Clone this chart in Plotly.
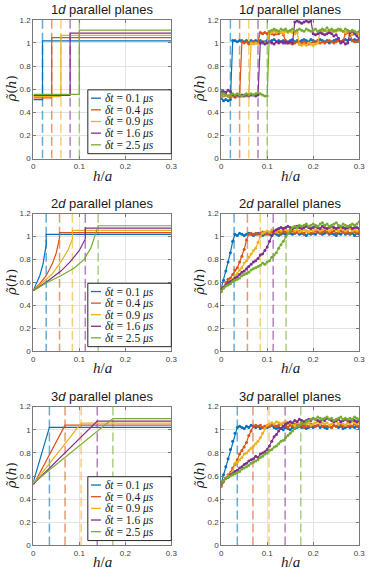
import plotly.graph_objects as go

# MATLAB default colour order
COLORS = ["#0072BD", "#D95319", "#EDB120", "#7E2F8E", "#77AC30"]
DT_LABELS = ["0.1", "0.4", "0.9", "1.6", "2.5"]
DIMS = ["1", "2", "3"]

# threshold positions (dashed lines), per dimension
THR_1D = [0.02, 0.04, 0.06, 0.08, 0.10]
THR_2D = [0.028, 0.057, 0.085, 0.113, 0.141]
THR_3D = [0.035, 0.069, 0.104, 0.139, 0.173]

# ---- theory, 1d: step functions (low before threshold, high after)
TH1_LOW = [0.51, 0.525, 0.535, 0.545, 0.555]
TH1_HIGH = [1.018, 1.045, 1.065, 1.085, 1.11]

# ---- theory, 2d: curved rise up to threshold, then flat
TH2_X = [
    [0, 0.007, 0.014, 0.021, 0.028, 0.028, 0.3],
    [0, 0.014, 0.028, 0.042, 0.05, 0.057, 0.057, 0.3],
    [0, 0.02, 0.04, 0.06, 0.075, 0.085, 0.085, 0.3],
    [0, 0.03, 0.06, 0.08, 0.1, 0.113, 0.113, 0.3],
    [0, 0.03, 0.06, 0.09, 0.11, 0.125, 0.141, 0.3],
]
TH2_Y = [
    [0.53, 0.59, 0.66, 0.76, 0.93, 1.02, 1.02],
    [0.53, 0.59, 0.66, 0.77, 0.86, 0.99, 1.035, 1.035],
    [0.53, 0.60, 0.67, 0.78, 0.88, 0.98, 1.055, 1.055],
    [0.53, 0.61, 0.70, 0.78, 0.88, 0.98, 1.075, 1.075],
    [0.53, 0.60, 0.66, 0.73, 0.80, 0.90, 1.095, 1.095],
]

# ---- theory, 3d: straight rise up to threshold, then flat
TH3_START = [0.55, 0.52, 0.53, 0.53, 0.54]
TH3_HIGH = [1.02, 1.04, 1.058, 1.075, 1.097]

# ---- simulation, sampled every 0.005 in h/a
H = [0.000, 0.005, 0.010, 0.015, 0.020, 0.025, 0.030, 0.035, 0.040, 0.045,
     0.050, 0.055, 0.060, 0.065, 0.070, 0.075, 0.080, 0.085, 0.090, 0.095,
     0.100, 0.105, 0.110, 0.115, 0.120, 0.125, 0.130, 0.135, 0.140, 0.145,
     0.150, 0.155, 0.160, 0.165, 0.170, 0.175, 0.180, 0.185, 0.190, 0.195,
     0.200, 0.205, 0.210, 0.215, 0.220, 0.225, 0.230, 0.235, 0.240, 0.245,
     0.250, 0.255, 0.260, 0.265, 0.270, 0.275, 0.280, 0.285, 0.290, 0.295,
     0.300]

SIM_1D = [
    [0.52, 0.50, 0.51, 0.50, 0.51, 1.02, 1.02, 1.01, 1.02, 1.02,
     1.01, 1.02, 1.00, 1.02, 1.01, 1.02, 1.01, 1.02, 1.00, 1.01,
     1.02, 1.01, 1.02, 1.03, 1.01, 1.02, 1.01, 1.02, 1.00, 1.01,
     1.02, 1.03, 1.01, 1.02, 1.01, 1.02, 1.03, 1.02, 1.01, 1.03,
     1.02, 1.01, 1.02, 1.03, 1.02, 1.01, 1.02, 1.00, 1.01, 1.02,
     1.03, 1.02, 1.01, 1.02, 1.03, 1.02, 1.03, 1.02, 1.03, 1.02, 1.03],
    [0.55, 0.54, 0.55, 0.54, 0.53, 0.54, 0.53, 0.54, 0.54, 1.01,
     1.00, 1.01, 0.99, 1.00, 1.01, 1.00, 1.01, 1.09, 1.08, 1.09,
     1.08, 1.09, 1.08, 1.07, 1.08, 1.08, 1.09, 1.07, 1.02, 1.00,
     1.00, 0.99, 1.00, 1.01, 0.99, 1.00, 1.01, 1.00, 0.99, 1.00,
     1.01, 1.00, 1.02, 1.00, 1.01, 1.00, 1.01, 1.02, 1.01, 1.00,
     1.01, 1.02, 1.01, 1.02, 1.08, 1.09, 1.07, 1.02, 1.01, 1.01, 1.02],
    [0.56, 0.55, 0.55, 0.54, 0.55, 0.54, 0.55, 0.54, 0.55, 0.54,
     0.55, 0.54, 0.55, 1.00, 0.99, 1.00, 0.99, 1.00, 1.01, 1.00,
     1.00, 1.08, 1.09, 1.10, 1.09, 1.10, 1.09, 1.08, 1.10, 1.09,
     1.10, 1.09, 1.08, 1.09, 0.99, 0.98, 0.99, 0.98, 1.00, 0.99,
     0.98, 0.99, 1.00, 1.09, 1.10, 1.11, 1.10, 1.09, 1.10, 1.11,
     1.10, 1.11, 1.12, 1.10, 1.09, 1.10, 1.08, 1.07, 1.08, 1.07, 1.08],
    [0.58, 0.58, 0.57, 0.59, 0.58, 0.55, 0.54, 0.55, 0.54, 0.55,
     0.54, 0.55, 0.54, 0.55, 0.55, 0.54, 0.55, 1.00, 1.01, 0.99,
     1.00, 1.01, 1.00, 0.99, 1.01, 1.00, 1.01, 1.00, 1.01, 1.00,
     1.01, 1.00, 1.18, 1.19, 1.18, 1.17, 1.18, 1.19, 1.18, 1.19,
     1.08, 1.07, 1.08, 1.09, 1.08, 1.07, 1.08, 1.09, 1.08, 1.06,
     1.07, 1.04, 1.00, 1.01, 0.99, 1.00, 1.09, 1.10, 1.08, 1.06, 1.04],
    [0.55, 0.56, 0.55, 0.54, 0.55, 0.56, 0.55, 0.56, 0.55, 0.54,
     0.55, 0.56, 0.55, 0.56, 0.55, 0.56, 0.57, 0.56, 0.55, 0.54,
     0.54, 1.10, 1.11, 1.12, 1.11, 1.10, 1.12, 1.11, 1.12, 1.10,
     1.11, 1.12, 1.10, 1.11, 1.12, 1.11, 1.10, 1.12, 1.11, 1.10,
     1.11, 1.12, 1.10, 1.11, 1.12, 1.11, 1.13, 1.11, 1.12, 1.10,
     1.11, 1.12, 1.11, 1.10, 1.12, 1.11, 1.10, 1.11, 1.10, 1.09, 1.10],
]

SIM_2D = [
    [0.55, 0.62, 0.70, 0.78, 0.86, 0.96, 1.02, 1.01, 1.03, 1.02,
     1.01, 1.02, 1.03, 1.02, 1.01, 1.02, 1.03, 1.02, 1.01, 1.02,
     1.03, 1.02, 1.01, 1.03, 1.02, 1.01, 1.02, 1.03, 1.02, 1.04,
     1.03, 1.02, 1.03, 1.04, 1.02, 1.03, 1.02, 1.01, 1.03, 1.02,
     1.03, 1.02, 1.04, 1.03, 1.02, 1.03, 1.04, 1.02, 1.03, 1.02,
     1.01, 1.03, 1.02, 1.04, 1.02, 1.03, 1.02, 1.03, 1.01, 1.03, 1.02],
    [0.52, 0.56, 0.60, 0.63, 0.64, 0.67, 0.71, 0.73, 0.78, 0.83,
     0.89, 0.97, 1.02, 1.03, 1.02, 1.03, 1.02, 1.03, 1.04, 1.03,
     1.02, 1.03, 1.04, 1.03, 1.05, 1.04, 1.03, 1.05, 1.04, 1.03,
     1.04, 1.05, 1.03, 1.04, 1.05, 1.04, 1.03, 1.05, 1.04, 1.03,
     1.04, 1.05, 1.04, 1.03, 1.04, 1.05, 1.04, 1.03, 1.04, 1.05,
     1.03, 1.04, 1.05, 1.04, 1.03, 1.04, 1.03, 1.05, 1.04, 1.03, 1.04],
    [0.53, 0.56, 0.58, 0.60, 0.61, 0.63, 0.66, 0.68, 0.71, 0.73,
     0.77, 0.79, 0.82, 0.85, 0.88, 0.90, 0.95, 1.00, 1.03, 1.04,
     1.05, 1.04, 1.06, 1.05, 1.04, 1.06, 1.05, 1.07, 1.06, 1.05,
     1.06, 1.07, 1.05, 1.06, 1.04, 1.05, 1.06, 1.05, 1.04, 1.06,
     1.05, 1.06, 1.07, 1.05, 1.06, 1.07, 1.06, 1.05, 1.06, 1.07,
     1.06, 1.05, 1.07, 1.06, 1.05, 1.06, 1.07, 1.05, 1.06, 1.05, 1.06],
    [0.54, 0.56, 0.58, 0.60, 0.61, 0.62, 0.64, 0.65, 0.67, 0.69,
     0.70, 0.72, 0.74, 0.76, 0.78, 0.79, 0.81, 0.84, 0.85, 0.88,
     0.91, 0.96, 1.01, 1.05, 1.06, 1.07, 1.08, 1.07, 1.08, 1.09,
     1.08, 1.07, 1.08, 1.09, 1.08, 1.07, 1.08, 1.09, 1.08, 1.07,
     1.08, 1.09, 1.08, 1.07, 1.09, 1.08, 1.07, 1.08, 1.09, 1.08,
     1.07, 1.08, 1.09, 1.08, 1.07, 1.08, 1.09, 1.07, 1.08, 1.08, 1.07],
    [0.53, 0.55, 0.57, 0.58, 0.59, 0.61, 0.62, 0.63, 0.64, 0.66,
     0.67, 0.68, 0.69, 0.71, 0.72, 0.73, 0.74, 0.75, 0.77, 0.76,
     0.78, 0.79, 0.82, 0.84, 0.86, 0.90, 0.93, 0.96, 1.00, 1.03,
     1.06, 1.08, 1.09, 1.08, 1.10, 1.09, 1.10, 1.11, 1.09, 1.10,
     1.11, 1.10, 1.09, 1.11, 1.12, 1.10, 1.11, 1.09, 1.10, 1.11,
     1.12, 1.10, 1.09, 1.11, 1.10, 1.09, 1.10, 1.11, 1.10, 1.11, 1.13],
]

SIM_3D = [
    [0.54, 0.61, 0.68, 0.75, 0.83, 0.90, 0.97, 1.02, 1.03, 1.02,
     1.01, 1.03, 1.02, 1.04, 1.03, 1.02, 1.03, 1.01, 1.02, 1.03,
     1.02, 1.03, 1.04, 1.02, 1.01, 1.02, 1.01, 1.00, 1.02, 1.01,
     1.00, 1.02, 1.01, 1.02, 1.03, 1.02, 1.03, 1.01, 1.02, 1.03,
     1.02, 1.03, 1.04, 1.02, 1.03, 1.02, 1.01, 1.03, 1.02, 1.04,
     1.03, 1.02, 1.03, 1.01, 1.02, 1.03, 1.02, 1.03, 1.02, 1.03, 1.02],
    [0.51, 0.55, 0.58, 0.61, 0.63, 0.67, 0.70, 0.74, 0.79, 0.82,
     0.85, 0.89, 0.95, 0.99, 1.03, 1.04, 1.03, 1.04, 1.02, 1.03,
     1.04, 1.03, 1.05, 1.04, 1.03, 1.04, 1.05, 1.03, 1.04, 1.02,
     1.04, 1.03, 1.05, 1.04, 1.03, 1.04, 1.02, 1.04, 1.03, 1.05,
     1.04, 1.03, 1.04, 1.05, 1.03, 1.04, 1.03, 1.04, 1.02, 1.04,
     1.03, 1.05, 1.04, 1.03, 1.04, 1.03, 1.04, 1.03, 1.05, 1.04, 1.03],
    [0.53, 0.56, 0.58, 0.60, 0.62, 0.64, 0.71, 0.72, 0.74, 0.76,
     0.79, 0.80, 0.82, 0.84, 0.86, 0.88, 0.90, 0.93, 0.97, 1.01,
     1.04, 1.05, 1.06, 1.05, 1.07, 1.06, 1.05, 1.06, 1.07, 1.05,
     1.06, 1.05, 1.04, 1.06, 1.05, 1.06, 1.07, 1.05, 1.06, 1.04,
     1.05, 1.06, 1.07, 1.05, 1.06, 1.05, 1.06, 1.04, 1.05, 1.06,
     1.07, 1.05, 1.06, 1.05, 1.04, 1.06, 1.05, 1.07, 1.06, 1.05, 1.06],
    [0.53, 0.56, 0.58, 0.59, 0.61, 0.62, 0.64, 0.65, 0.67, 0.68,
     0.70, 0.71, 0.73, 0.74, 0.75, 0.77, 0.76, 0.79, 0.80, 0.81,
     0.83, 0.86, 0.90, 0.94, 0.96, 0.99, 1.01, 1.03, 1.05, 1.06,
     1.07, 1.06, 1.08, 1.07, 1.09, 1.08, 1.07, 1.08, 1.09, 1.08,
     1.10, 1.09, 1.08, 1.07, 1.09, 1.08, 1.10, 1.09, 1.08, 1.07,
     1.08, 1.09, 1.07, 1.08, 1.09, 1.08, 1.07, 1.09, 1.08, 1.07, 1.08],
    [0.54, 0.56, 0.58, 0.59, 0.60, 0.61, 0.62, 0.63, 0.64, 0.66,
     0.67, 0.68, 0.69, 0.71, 0.72, 0.73, 0.74, 0.76, 0.77, 0.79,
     0.80, 0.82, 0.83, 0.85, 0.86, 0.88, 0.90, 0.91, 0.93, 0.95,
     0.97, 0.99, 1.01, 1.03, 1.04, 1.06, 1.05, 1.07, 1.08, 1.09,
     1.10, 1.09, 1.11, 1.10, 1.09, 1.10, 1.11, 1.09, 1.10, 1.08,
     1.09, 1.10, 1.11, 1.09, 1.10, 1.09, 1.10, 1.09, 1.11, 1.10, 1.09],
]

THRESHOLDS = [THR_1D, THR_2D, THR_3D]
SIMS = [SIM_1D, SIM_2D, SIM_3D]

W, HGT = 374, 577
# plot boxes in pixels (left, right) and (top, bottom)
COLS_PX = [(32, 173), (224, 365)]
ROWS_PX = [(16, 157), (213, 353), (409, 550)]

fig = go.Figure()
layout = dict(
    width=W, height=HGT, margin=dict(l=0, r=0, t=0, b=0),
    paper_bgcolor="white", plot_bgcolor="white", showlegend=False, hovermode=False,
    font=dict(family="Liberation Sans, Arial", color="#262626"),
)
annotations = []
shapes = []

MATH = "Liberation Serif, Times New Roman, serif"
MATH_Y = "DejaVu Serif, serif"

for r in range(3):
    for c in range(2):
        k = r * 2 + c + 1
        xa = "x" if k == 1 else f"x{k}"
        ya = "y" if k == 1 else f"y{k}"
        xdom = [COLS_PX[c][0] / W, COLS_PX[c][1] / W]
        ydom = [1 - ROWS_PX[r][1] / HGT, 1 - ROWS_PX[r][0] / HGT]
        axcommon = dict(
            showline=True, linecolor="#7a7a7a", linewidth=1, mirror="ticks",
            ticks="inside", ticklen=3, tickcolor="#7a7a7a",
            showgrid=True, gridcolor="#e3e3e3", gridwidth=1, zeroline=False,
            tickfont=dict(size=8, color="#404040"), ticklabeloverflow="allow",
        )
        layout["xaxis" if k == 1 else f"xaxis{k}"] = dict(
            axcommon, domain=xdom, anchor=ya, range=[0, 0.3],
            tickvals=[0, 0.1, 0.2, 0.3], ticktext=["0", "0.1", "0.2", "0.3"],
        )
        layout["yaxis" if k == 1 else f"yaxis{k}"] = dict(
            axcommon, domain=ydom, anchor=xa, range=[0, 1.2],
            tickvals=[0, 0.2, 0.4, 0.6, 0.8, 1, 1.2],
            ticktext=["0", "0.2", "0.4", "0.6", "0.8", "1", "1.2"],
        )
        xr, yr = f"{xa} domain", f"{ya} domain"
        annotations.append(dict(
            text=f"{DIMS[r]}<i>d</i> parallel planes", xref=xr, yref=yr,
            x=0.5, y=1, xanchor="center", yanchor="bottom", yshift=1, showarrow=False,
            font=dict(size=13, color="#1a1a1a"),
        ))
        # axis labels
        annotations.append(dict(
            text="<i>h</i>/<i>a</i>", xref=xr, yref=yr, x=0.5, y=0,
            xanchor="center", yanchor="middle", yshift=-17, showarrow=False,
            font=dict(family=MATH, size=15, color="#1a1a1a"),
        ))
        annotations.append(dict(
            text="<i>ρ̃</i>(<i>h</i>)", xref=xr, yref=yr, x=0, y=0.5,
            xanchor="center", yanchor="middle", xshift=-22, textangle=-90,
            showarrow=False, font=dict(family=MATH_Y, size=13, color="#1a1a1a"),
        ))

        thr = THRESHOLDS[r]
        # dashed threshold markers
        for i in range(5):
            fig.add_trace(go.Scatter(
                x=[thr[i], thr[i]], y=[1.2, 0], mode="lines", xaxis=xa, yaxis=ya,
                line=dict(color=COLORS[i], width=1.5, dash="9px,4px"), opacity=0.6,
                hoverinfo="skip",
            ))

        for i in range(5):
            if c == 0:
                if r == 0:
                    xs = [0, thr[i], 0.3]
                    ys = [TH1_LOW[i], TH1_HIGH[i], TH1_HIGH[i]]
                    shape = "hv"
                elif r == 1:
                    xs, ys, shape = TH2_X[i], TH2_Y[i], "linear"
                else:
                    xs = [0, thr[i], 0.3]
                    ys = [TH3_START[i], TH3_HIGH[i], TH3_HIGH[i]]
                    shape = "linear"
                fig.add_trace(go.Scatter(
                    x=xs, y=ys, mode="lines", xaxis=xa, yaxis=ya,
                    line=dict(color=COLORS[i], width=1.2, shape=shape),
                    name=f"δt = {DT_LABELS[i]} μs",
                ))
            else:
                fig.add_trace(go.Scatter(
                    x=H, y=SIMS[r][i], mode="lines+markers", xaxis=xa, yaxis=ya,
                    line=dict(color=COLORS[i], width=1.2),
                    marker=dict(color=COLORS[i], size=3),
                ))

        if c == 0:
            # legend box drawn in axis-domain coordinates
            shapes.append(dict(type="rect", xref=xr, yref=yr, x0=0.395, x1=1.0,
                               y0=0.035, y1=0.495, fillcolor="white",
                               line=dict(color="#262626", width=1), layer="above"))
            for i in range(5):
                yy = 0.435 - 0.084 * i
                shapes.append(dict(type="line", xref=xr, yref=yr, x0=0.418, x1=0.49,
                                   y0=yy, y1=yy, line=dict(color=COLORS[i], width=1.3),
                                   layer="above"))
                annotations.append(dict(
                    text=f"<i>δt</i> = {DT_LABELS[i]} <i>μs</i>", xref=xr, yref=yr,
                    x=0.505, y=yy, xanchor="left", yanchor="middle", showarrow=False,
                    height=12, font=dict(family=MATH, size=11.5, color="#1a1a1a"),
                ))

layout["annotations"] = annotations
layout["shapes"] = shapes
fig.update_layout(**layout)

# the page body has an 8px default margin; drop it so the figure fills the window
fig.write_html("out.html", config={"displayModeBar": False},
               post_script="document.body.style.margin='0px';")
